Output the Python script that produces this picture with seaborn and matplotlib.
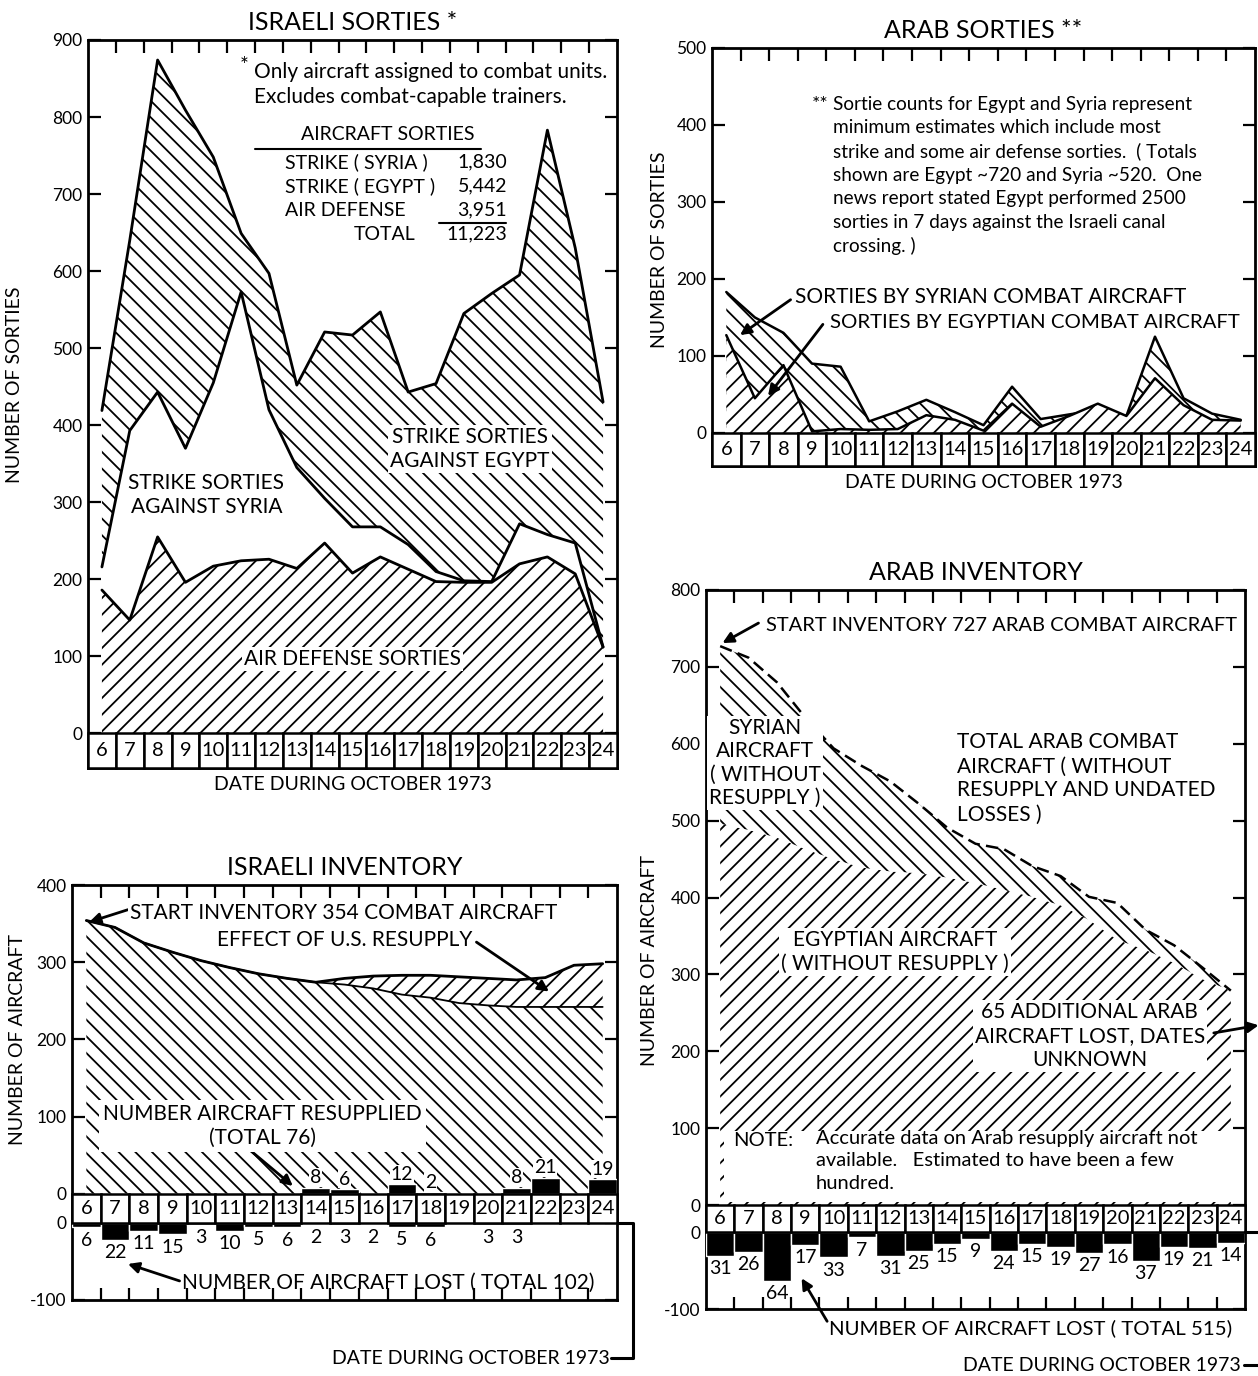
import matplotlib
matplotlib.use("Agg")
import matplotlib.pyplot as plt
import seaborn as sns
from matplotlib.patches import Rectangle

# ---------------- DATA ----------------
days = list(range(6, 25))

# Israeli sorties (stack boundaries)
isr_air_defense = [186, 147, 255, 196, 217, 224, 226, 214, 247, 208, 229, 213, 197, 196, 196, 220, 229, 207, 112]
isr_plus_syria = [216, 393, 443, 370, 455, 573, 420, 345, 305, 268, 268, 245, 210, 198, 197, 272, 258, 247, 112]
isr_total_sorties = [419, 640, 874, 809, 748, 649, 597, 452, 521, 517, 547, 443, 454, 545, 571, 595, 783, 630, 430]

# Arab sorties
syr_sorties = [183, 150, 130, 90, 86, 15, 28, 43, 27, 10, 60, 18, 24, 30, 22, 125, 45, 25, 17]
egy_sorties = [127, 45, 88, 2, 5, 4, 5, 23, 17, 3, 38, 8, 22, 38, 22, 71, 36, 17, 16]

# Israeli inventory
isr_inv_with = [354, 345, 325, 313, 302, 293, 285, 279, 274, 279, 282, 283, 283, 281, 279, 277, 280, 296, 298]
isr_inv_without = [354, 345, 325, 313, 302, 293, 285, 279, 274, 271, 266, 258, 254, 247, 244, 242, 242, 242, 242]
isr_resupplied = [0, 0, 0, 0, 0, 0, 0, 0, 8, 6, 0, 12, 2, 0, 0, 8, 21, 0, 19]
isr_lost = [6, 22, 11, 15, 3, 10, 5, 6, 2, 3, 2, 5, 6, 0, 3, 3, 0, 0, 0]

# Arab inventory
arab_inv_total = [727, 712, 680, 634, 594, 571, 551, 522, 491, 470, 463, 441, 428, 401, 393, 358, 338, 309, 279]
arab_inv_egypt = [496, 488, 478, 463, 450, 439, 434, 432, 426, 419, 410, 401, 390, 371, 345, 332, 315, 294, 279]
arab_lost = [31, 26, 64, 17, 33, 7, 31, 25, 15, 9, 24, 15, 19, 27, 16, 37, 19, 21, 14]

isr_sortie_ticks = [0, 100, 200, 300, 400, 500, 600, 700, 800, 900]
arab_sortie_ticks = [0, 100, 200, 300, 400, 500]
isr_inv_ticks = [0, 100, 200, 300, 400]
arab_inv_ticks = [0, 100, 200, 300, 400, 500, 600, 700, 800]
loss_ticks = [0, -100]

# ---------------- STYLE ----------------
sns.set_theme(style="white", rc={"axes.edgecolor": "black", "text.color": "black",
                                 "xtick.color": "black", "ytick.color": "black",
                                 "axes.labelcolor": "black"})
plt.rcParams['font.family'] = ['Lato', 'DejaVu Sans']
plt.rcParams['hatch.linewidth'] = 1.3
plt.rcParams['hatch.color'] = 'black'

W, H = 1258, 1376
fig = plt.figure(figsize=(W / 100, H / 100), dpi=100)


def rect(l, t, r, b):
    return [l / W, 1 - b / H, (r - l) / W, (b - t) / H]


ax1 = fig.add_axes(rect(88, 40, 617, 768))
ax2 = fig.add_axes(rect(712, 48, 1255, 466))
ax3 = fig.add_axes(rect(72, 885, 617, 1300))
ax4 = fig.add_axes(rect(706, 590, 1245, 1309))

ISR_STRIP = 37.7
ARAB_STRIP = 35.0

FS = 15      # annotation font size
NFS = 14.5   # box number size
TFS = 12.5   # tick label size
LFS = 14     # axis label size


def hatch_fill(ax, y1, y2, hatch, z):
    ax.fill_between(days, y1, y2, facecolor='white', edgecolor='black',
                    hatch=hatch, linewidth=0, zorder=z)


def outline(ax, y, z, lw=2.0, **kw):
    sns.lineplot(x=days, y=y, ax=ax, color='black', lw=lw, zorder=z, **kw)


def date_strip(ax, top, bottom):
    for d in days:
        ax.add_patch(Rectangle((d - 0.5, bottom), 1.0, top - bottom, facecolor='white',
                               edgecolor='black', linewidth=1.8, zorder=6, clip_on=False))
        ax.text(d, (top + bottom) / 2, str(d), ha='center', va='center',
                fontsize=NFS, zorder=7)


def style_axes(ax, yt, ylab, bottom_ticks, ylim):
    ax.set_xlim(5.5, 24.5)
    ax.set_ylim(*ylim)
    ax.set_xticks([d + 0.5 for d in days[:-1]])
    ax.set_xticklabels([])
    ax.tick_params(axis='x', which='both', top=True, bottom=bottom_ticks, direction='in',
                   length=9, width=1.6, labelbottom=False, labeltop=False)
    ax.set_yticks(yt)
    ax.set_yticklabels(ylab)
    ax.tick_params(axis='y', left=True, right=True, direction='in', length=9, width=1.6,
                   labelsize=TFS, pad=4)
    for s in ax.spines.values():
        s.set_visible(True)
        s.set_linewidth(2)
        s.set_color('black')
    ax.set_xlabel('')


def arrow(ax, tail, head, lw=2.0):
    ax.annotate('', xy=head, xytext=tail,
                arrowprops=dict(arrowstyle='-|>', color='black', lw=lw,
                                mutation_scale=16, shrinkA=0, shrinkB=0),
                annotation_clip=False, zorder=8)


white_box = dict(facecolor='white', edgecolor='none', pad=1.5)

# ================= ISRAELI SORTIES =================
hatch_fill(ax1, 0, isr_air_defense, '//', 1)
hatch_fill(ax1, isr_plus_syria, isr_total_sorties, '\\\\', 1)
outline(ax1, isr_air_defense, 3)
outline(ax1, isr_plus_syria, 3)
outline(ax1, isr_total_sorties, 3)
style_axes(ax1, isr_sortie_ticks, [str(t) for t in isr_sortie_ticks], False, (-45, 900))
date_strip(ax1, 0, -45)
ax1.set_title('ISRAELI SORTIES *', fontsize=18, pad=7)
ax1.set_ylabel('NUMBER OF SORTIES', fontsize=LFS)
ax1.yaxis.set_label_coords(-0.123, 0.527)
ax1.annotate('DATE DURING OCTOBER 1973', xy=(0.5, 0), xycoords='axes fraction',
             xytext=(0, -6), textcoords='offset points', ha='center', va='top', fontsize=14)

ax1.text(10.95, 866, '*', fontsize=15, ha='left', va='center', zorder=9)
ax1.text(11.45, 842, 'Only aircraft assigned to combat units.\nExcludes combat-capable trainers.',
         fontsize=15, ha='left', va='center', linespacing=1.3, zorder=9)
ax1.text(16.28, 777, 'AIRCRAFT SORTIES', fontsize=14, ha='center', va='center', zorder=9)
ax1.plot([11.5, 19.6], [758, 758], color='black', lw=1.5, zorder=9)
rows_left = ['STRIKE ( SYRIA )', 'STRIKE ( EGYPT )', 'AIR DEFENSE']
rows_right = ['1,830', '5,442', '3,951']
rows_y = [742, 710, 679]
for lab, val, yy in zip(rows_left, rows_right, rows_y):
    ax1.text(12.58, yy, lab, fontsize=14, ha='left', va='center', zorder=9)
    ax1.text(20.55, yy, val, fontsize=14, ha='right', va='center', zorder=9)
ax1.plot([18.1, 20.5], [663, 663], color='black', lw=1.5, zorder=9)
ax1.text(17.28, 648, 'TOTAL', fontsize=14, ha='right', va='center', zorder=9)
ax1.text(20.55, 648, '11,223', fontsize=14, ha='right', va='center', zorder=9)

ax1.text(19.22, 369, 'STRIKE SORTIES\nAGAINST EGYPT', fontsize=FS, ha='center', va='center',
         linespacing=1.25, bbox=white_box, zorder=9)
ax1.text(9.75, 309, 'STRIKE SORTIES\nAGAINST SYRIA', fontsize=FS, ha='center', va='center',
         linespacing=1.25, zorder=9)
ax1.text(15.0, 97, 'AIR DEFENSE SORTIES', fontsize=FS, ha='center', va='center',
         bbox=white_box, zorder=9)

# ================= ARAB SORTIES =================
hatch_fill(ax2, 0, syr_sorties, '\\\\', 1)
outline(ax2, syr_sorties, 2, lw=1.8)
hatch_fill(ax2, 0, egy_sorties, '//', 3)
outline(ax2, egy_sorties, 4, lw=1.8)
style_axes(ax2, arab_sortie_ticks, [str(t) for t in arab_sortie_ticks], False, (-43, 500))
date_strip(ax2, 0, -43)
ax2.set_title('ARAB SORTIES **', fontsize=18, pad=7)
ax2.set_ylabel('NUMBER OF SORTIES', fontsize=LFS)
ax2.yaxis.set_label_coords(-0.081, 0.517)
ax2.annotate('DATE DURING OCTOBER 1973', xy=(0.5, 0), xycoords='axes fraction',
             xytext=(0, -6), textcoords='offset points', ha='center', va='top', fontsize=14)
ax2.text(9.0, 427, '**', fontsize=14, ha='left', va='center')
ax2.text(9.73, 438,
         'Sortie counts for Egypt and Syria represent\n'
         'minimum estimates which include most\n'
         'strike and some air defense sorties.  ( Totals\n'
         'shown are Egypt ~720 and Syria ~520.  One\n'
         'news report stated Egypt performed 2500\n'
         'sorties in 7 days against the Israeli canal\n'
         'crossing. )',
         fontsize=13.7, ha='left', va='top', linespacing=1.45)
ax2.text(8.4, 177, 'SORTIES BY SYRIAN COMBAT AIRCRAFT', fontsize=FS, ha='left', va='center', zorder=9)
ax2.text(9.63, 144, 'SORTIES BY EGYPTIAN COMBAT AIRCRAFT', fontsize=14.7, ha='left', va='center', zorder=9)
arrow(ax2, (8.25, 173), (6.48, 127))
arrow(ax2, (9.38, 141), (7.46, 48))

# ================= ISRAELI INVENTORY =================
hatch_fill(ax3, 0, isr_inv_without, '\\\\', 1)
hatch_fill(ax3, isr_inv_without, isr_inv_with, '//', 1)
outline(ax3, isr_inv_without, 3, lw=1.3)
outline(ax3, isr_inv_with, 3, lw=2.0)
ax3.bar(days, isr_resupplied, width=1.0, bottom=0, color='black', zorder=5)
ax3.bar(days, [-v for v in isr_lost], width=1.0, bottom=-ISR_STRIP, color='black', zorder=5)
isr_yt = isr_inv_ticks + [t - ISR_STRIP for t in loss_ticks]
style_axes(ax3, isr_yt, [str(t) for t in isr_inv_ticks] + [str(t) for t in loss_ticks], True,
           (-ISR_STRIP - 100, 400))
date_strip(ax3, 0, -ISR_STRIP)
ax3.set_title('ISRAELI INVENTORY', fontsize=18, pad=7)
ax3.set_ylabel('NUMBER OF AIRCRAFT', fontsize=LFS)
ax3.yaxis.set_label_coords(-0.084, 0.627)
for d, v in zip(days, isr_resupplied):
    if v:
        ax3.annotate(str(v), xy=(d, v), xytext=(0, 1), textcoords='offset points',
                     ha='center', va='bottom', fontsize=14, zorder=9,
                     bbox=dict(facecolor='white', edgecolor='none', pad=0.5))
for d, v in zip(days, isr_lost):
    if v:
        ax3.annotate(str(v), xy=(d, -ISR_STRIP - v), xytext=(0, -3), textcoords='offset points',
                     ha='center', va='top', fontsize=14, zorder=9)
ax3.text(7.52, 364, 'START INVENTORY 354 COMBAT AIRCRAFT', fontsize=FS, ha='left', va='center',
         bbox=white_box, zorder=9)
arrow(ax3, (7.45, 368), (6.1, 352))
ax3.text(10.56, 329, 'EFFECT OF U.S. RESUPPLY', fontsize=FS, ha='left', va='center',
         bbox=white_box, zorder=9)
arrow(ax3, (19.6, 326), (22.13, 262))
ax3.text(12.15, 88, 'NUMBER AIRCRAFT RESUPPLIED\n(TOTAL 76)', fontsize=FS, ha='center',
         va='center', linespacing=1.25, bbox=dict(facecolor='white', edgecolor='none', pad=3),
         zorder=9)
arrow(ax3, (11.72, 56), (13.2, 10))
ax3.text(9.32, -115, 'NUMBER OF AIRCRAFT LOST ( TOTAL 102)', fontsize=FS, ha='left', va='center',
         zorder=9)
arrow(ax3, (9.25, -113), (7.45, -91))
ax3.text(24.26, -213, 'DATE DURING OCTOBER 1973', fontsize=14, ha='right', va='center',
         clip_on=False)
ax3.plot([24.5, 25.05, 25.05, 24.3], [-ISR_STRIP, -ISR_STRIP, -213, -213], color='black',
         lw=2.2, clip_on=False, zorder=9)

# ================= ARAB INVENTORY =================
hatch_fill(ax4, 0, arab_inv_egypt, '//', 1)
hatch_fill(ax4, arab_inv_egypt, arab_inv_total, '\\\\', 1)
outline(ax4, arab_inv_total, 3, lw=1.8, linestyle=(0, (5, 2.5)))
ax4.bar(days, [-v for v in arab_lost], width=1.0, bottom=-ARAB_STRIP, color='black', zorder=5)
arab_yt = arab_inv_ticks + [t - ARAB_STRIP for t in loss_ticks]
style_axes(ax4, arab_yt, [str(t) for t in arab_inv_ticks] + [str(t) for t in loss_ticks], True,
           (-ARAB_STRIP - 100, 800))
date_strip(ax4, 0, -ARAB_STRIP)
ax4.set_title('ARAB INVENTORY', fontsize=18, pad=7)
ax4.set_ylabel('NUMBER OF AIRCRAFT', fontsize=LFS)
ax4.yaxis.set_label_coords(-0.089, 0.485)
for d, v in zip(days, arab_lost):
    ax4.annotate(str(v), xy=(d, -ARAB_STRIP - v), xytext=(0, -3), textcoords='offset points',
                 ha='center', va='top', fontsize=14, zorder=9)
ax4.text(7.6, 754, 'START INVENTORY 727 ARAB COMBAT AIRCRAFT', fontsize=14.5, ha='left',
         va='center', zorder=9)
arrow(ax4, (7.35, 757), (6.08, 731))
ax4.text(7.58, 575, 'SYRIAN\nAIRCRAFT\n( WITHOUT\nRESUPPLY )', fontsize=FS, ha='center',
         va='center', linespacing=1.2, bbox=white_box, zorder=9)
ax4.text(14.35, 555, 'TOTAL ARAB COMBAT\nAIRCRAFT ( WITHOUT\nRESUPPLY AND UNDATED\nLOSSES )',
         fontsize=FS, ha='left', va='center', linespacing=1.25, zorder=9)
ax4.text(12.16, 329, 'EGYPTIAN AIRCRAFT\n( WITHOUT RESUPPLY )', fontsize=FS, ha='center',
         va='center', linespacing=1.25, bbox=white_box, zorder=9)
ax4.text(19.03, 220, '65 ADDITIONAL ARAB\nAIRCRAFT LOST, DATES\nUNKNOWN', fontsize=FS,
         ha='center', va='center', linespacing=1.25, bbox=white_box, zorder=9)
arrow(ax4, (23.4, 224), (24.98, 234))
ax4.add_patch(Rectangle((6.13, 4), 24.0 - 6.13, 93, facecolor='white', edgecolor='none', zorder=8))
ax4.text(6.45, 84.5, 'NOTE:', fontsize=14.5, ha='left', va='center', zorder=9)
ax4.text(9.38, 98, 'Accurate data on Arab resupply aircraft not\navailable.   Estimated to have been a few\nhundred.',
         fontsize=14.5, ha='left', va='top', linespacing=1.4, zorder=9)
ax4.text(9.83, -160, 'NUMBER OF AIRCRAFT LOST ( TOTAL 515)', fontsize=14.7, ha='left',
         va='center', zorder=9)
arrow(ax4, (9.77, -151), (8.87, -95))
ax4.text(24.36, -208, 'DATE DURING OCTOBER 1973', fontsize=14, ha='right', va='center',
         clip_on=False)
ax4.plot([24.5, 25.2], [-ARAB_STRIP, -ARAB_STRIP], color='black', lw=2.2, clip_on=False, zorder=9)
ax4.plot([24.45, 25.2], [-208, -208], color='black', lw=2.2, clip_on=False, zorder=9)

fig.savefig('out.png', dpi=100)
